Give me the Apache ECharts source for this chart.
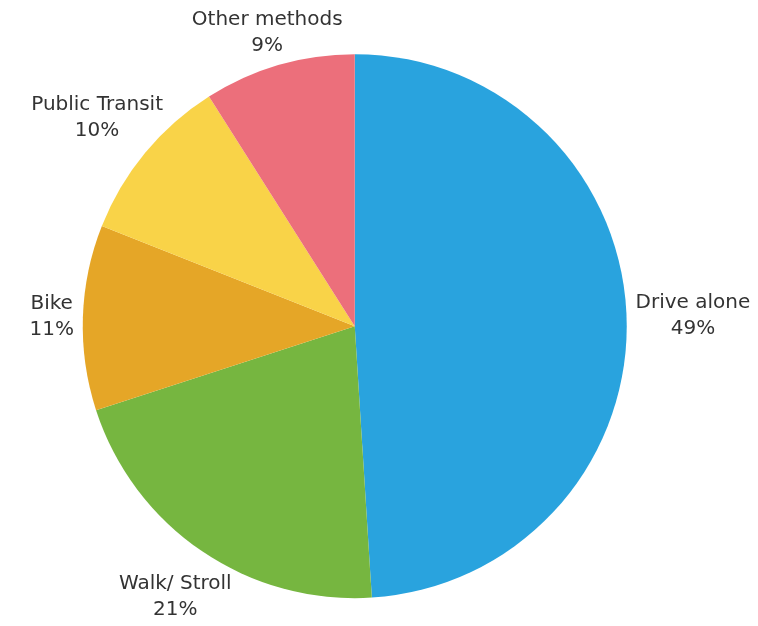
<!DOCTYPE html>
<html>
<head>
<meta charset="utf-8">
<script src="https://cdn.jsdelivr.net/npm/echarts@6/dist/echarts.min.js"></script>
<style>
  html, body { margin: 0; padding: 0; background: #fff; }
  #main { width: 758px; height: 626px; }
</style>
</head>
<body>
<div id="main"></div>
<script>
  // commute modes, clockwise from 12 o'clock
  var categories = ['Drive alone', 'Walk/ Stroll', 'Bike', 'Public Transit', 'Other methods'];
  var shares = [49, 21, 11, 10, 9];
  var colors = ['#29a3de', '#76b640', '#e5a627', '#f9d348', '#ec6f7b'];

  var chart = echarts.init(document.getElementById('main'));

  var pieData = [];
  for (var i = 0; i < categories.length; i++) {
    pieData.push({ name: categories[i], value: shares[i], itemStyle: { color: colors[i] } });
  }

  var labelGap = 9;

  var option = {
    backgroundColor: '#fff',
    animation: false,
    series: [{
      type: 'pie',
      center: ['46.8%', '52.1%'],
      radius: 272,
      startAngle: 90,
      clockwise: true,
      avoidLabelOverlap: false,
      data: pieData,
      label: {
        show: true,
        position: 'outside',
        formatter: '{b}\n{c}%',
        fontFamily: 'DejaVu Sans',
        fontSize: 20,
        lineHeight: 26,
        color: '#333'
      },
      labelLine: {
        show: true,
        length: 20,
        length2: 0,
        lineStyle: { color: 'rgba(0,0,0,0)', width: 0 }
      },
      // push each label box radially out so it sits just off the rim
      labelLayout: function (params) {
        var pts = params.labelLinePoints;
        if (!pts) return {};
        var dx = pts[1][0] - pts[0][0];
        var dy = pts[1][1] - pts[0][1];
        var len = Math.sqrt(dx * dx + dy * dy) || 1;
        dx /= len; dy /= len;
        var w = params.labelRect.width, h = params.labelRect.height;
        var ext = Math.sqrt(Math.pow(dx * w / 2, 2) + Math.pow(dy * h / 2, 2)) + labelGap;
        return {
          x: pts[0][0] + dx * ext,
          y: pts[0][1] + dy * ext + 8 * Math.abs(dy),
          align: 'center',
          verticalAlign: 'middle'
        };
      }
    }]
  };

  chart.setOption(option);
</script>
</body>
</html>
